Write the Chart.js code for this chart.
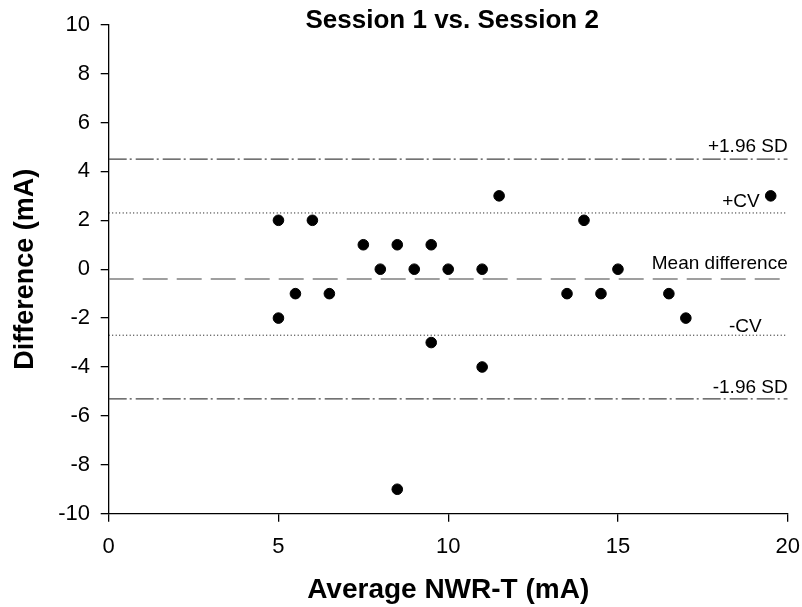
<!DOCTYPE html>
<html>
<head>
<meta charset="utf-8">
<script src="https://cdn.jsdelivr.net/npm/chart.js@4.4.0/dist/chart.umd.min.js"></script>
<style>
    body { margin: 0; background: #fff; }
    #wrap { width: 802px; height: 607px; }
</style>
</head>
<body>
<div id="wrap"><canvas id="blandAltmanChart" width="802" height="607"></canvas></div>
<script>
// Average of the two sessions (x) and their difference (y)
const averages = [5, 5, 5.5, 6, 6.5, 7.5, 8, 8.5, 8.5, 9, 9.5, 9.5, 10, 11, 11, 11.5, 13.5, 14, 14.5, 15, 16.5, 17, 19.5];
const differences = [2, -2, -1, 2, -1, 1, 0, 1, -9, 0, 1, -3, 0, 0, -4, 3, -1, 2, -1, 0, -1, -2, 3];

// Reference lines (mA)
const refNames = ['+1.96 SD', '+CV', 'Mean difference', '-CV', '-1.96 SD'];
const refValues = [4.5, 2.3, -0.4, -2.7, -5.3];

const chartTitle = 'Session 1 vs. Session 2';
const xTitle = 'Average NWR-T (mA)';
const yTitle = 'Difference (mA)';
const xTicks = [0, 5, 10, 15, 20];
const yTicks = [-10, -8, -6, -4, -2, 0, 2, 4, 6, 8, 10];

const FONT = "'Liberation Sans', Arial, sans-serif";

// line style per reference line: dash-dot, dotted, dashed, dotted, dash-dot
const refStyles = [
    { dash: [18, 3, 2, 4], color: '#444444', width: 1.2 },
    { dash: [1, 2.5], color: '#000000', width: 1 },
    { dash: [25, 9], color: '#808080', width: 1.6 },
    { dash: [1, 2.5], color: '#000000', width: 1 },
    { dash: [18, 3, 2, 4], color: '#444444', width: 1.2 }
];
// label placement: right edge offset from plot right (px), gap above line (px)
const refLabelPos = [
    { right: 0, above: 7 },
    { right: 28, above: 6 },
    { right: 0, above: 10 },
    { right: 26, above: 3 },
    { right: 0, above: 6 }
];

const points = averages.map((x, i) => ({ x, y: differences[i] }));

const refDatasets = refValues.map((v, i) => ({
    type: 'line',
    label: refNames[i],
    data: [{ x: xTicks[0], y: v }, { x: xTicks[xTicks.length - 1], y: v }],
    borderColor: refStyles[i].color,
    borderWidth: refStyles[i].width,
    borderDash: refStyles[i].dash,
    pointRadius: 0,
    fill: false
}));

// title and reference line labels
const annotations = {
    id: 'annotations',
    afterDraw(chart) {
        const { ctx, chartArea, scales } = chart;
        ctx.save();
        ctx.fillStyle = '#000';
        ctx.font = `bold 26px ${FONT}`;
        ctx.textAlign = 'center';
        ctx.textBaseline = 'middle';
        ctx.fillText(chartTitle, (chartArea.left + chartArea.right) / 2 + 4, 21);

        ctx.font = `19px ${FONT}`;
        ctx.textAlign = 'right';
        ctx.textBaseline = 'alphabetic';
        refNames.forEach((name, i) => {
            const y = scales.y.getPixelForValue(refValues[i]) - refLabelPos[i].above;
            ctx.fillText(name, chartArea.right - refLabelPos[i].right, y);
        });
        ctx.restore();
    }
};

const ctx = document.getElementById('blandAltmanChart').getContext('2d');
new Chart(ctx, {
    type: 'scatter',
    data: {
        datasets: [{
            label: 'Difference',
            data: points,
            backgroundColor: '#000',
            borderColor: '#000',
            pointRadius: 5.3,
            pointHoverRadius: 5.3
        }, ...refDatasets]
    },
    options: {
        responsive: false,
        animation: false,
        events: [],
        layout: { padding: { top: 24.7, right: 14.3, bottom: 0, left: 0 } },
        plugins: {
            legend: { display: false },
            title: { display: false },
            tooltip: { enabled: false }
        },
        scales: {
            x: {
                type: 'linear',
                min: 0,
                max: 20,
                afterBuildTicks: (scale) => { scale.ticks = xTicks.map(v => ({ value: v })); },
                afterFit: (scale) => {
                    scale.height = 93.3;
                    scale.paddingLeft = 0;
                    scale.paddingRight = 0;
                },
                ticks: { color: '#000', font: { family: FONT, size: 22 }, padding: 12, maxRotation: 0 },
                grid: { display: true, drawOnChartArea: false, drawTicks: true, tickLength: 8, color: '#000', lineWidth: 1.3 },
                border: { display: true, color: '#000', width: 1.3 },
                title: { display: true, text: xTitle, color: '#000', font: { family: FONT, size: 28, weight: 'bold' }, padding: { top: 0, bottom: 0 } }
            },
            y: {
                type: 'linear',
                min: -10,
                max: 10,
                afterBuildTicks: (scale) => { scale.ticks = yTicks.map(v => ({ value: v })); },
                afterFit: (scale) => { scale.width = 108.7; },
                ticks: { color: '#000', font: { family: FONT, size: 22 }, padding: 10.7 },
                grid: { display: true, drawOnChartArea: false, drawTicks: true, tickLength: 8, color: '#000', lineWidth: 1.3 },
                border: { display: true, color: '#000', width: 1.3 },
                title: { display: true, text: yTitle, color: '#000', font: { family: FONT, size: 27, weight: 'bold' }, padding: { top: 9.5, bottom: 0 } }
            }
        }
    },
    plugins: [annotations]
});
</script>
</body>
</html>
